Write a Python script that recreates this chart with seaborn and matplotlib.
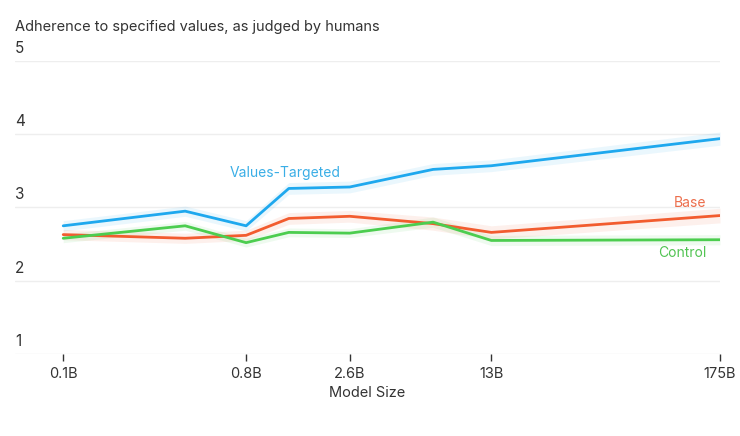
import pandas as pd
import matplotlib.pyplot as plt
import seaborn as sns

# model sizes in billions of parameters
sizes = [0.1, 0.4, 0.8, 1.3, 2.6, 6.7, 13, 175]
tick_sizes = [0.1, 0.8, 2.6, 13, 175]
tick_labels = ["0.1B", "0.8B", "2.6B", "13B", "175B"]
y_ticks = [1, 2, 3, 4, 5]

values_targeted = [2.75, 2.95, 2.75, 3.26, 3.28, 3.52, 3.57, 3.94]
base = [2.63, 2.58, 2.62, 2.85, 2.88, 2.78, 2.66, 2.89]
control = [2.58, 2.75, 2.52, 2.66, 2.65, 2.80, 2.55, 2.56]

# rough half-width of the shaded bands
values_targeted_err = [0.07, 0.07, 0.07, 0.08, 0.08, 0.08, 0.08, 0.09]
base_err = [0.07, 0.07, 0.07, 0.08, 0.08, 0.09, 0.09, 0.1]
control_err = [0.06, 0.06, 0.06, 0.06, 0.06, 0.07, 0.07, 0.07]

series = {
    "Values-Targeted": (values_targeted, values_targeted_err),
    "Base": (base, base_err),
    "Control": (control, control_err),
}
colors = {"Values-Targeted": "#1ea8ee", "Base": "#f25c2f", "Control": "#4ccd4f"}
label_colors = {"Values-Targeted": "#3aaee6", "Base": "#ec6e4c", "Control": "#52c453"}

rows = []
for name, (vals, errs) in series.items():
    for s, v in zip(sizes, vals):
        rows.append({"size": s, "score": v, "model": name})
df = pd.DataFrame(rows)

sns.set_theme(style="white")
plt.rcParams["font.family"] = ["Inter", "DejaVu Sans"]

fig = plt.figure(figsize=(7.4, 4.36), dpi=100)
ax = fig.add_axes([15 / 740, (436 - 354) / 436, 705 / 740, 293 / 436])

for name, (vals, errs) in series.items():
    lo = [v - e for v, e in zip(vals, errs)]
    hi = [v + e for v, e in zip(vals, errs)]
    ax.fill_between(sizes, lo, hi, color=colors[name], alpha=0.09, lw=0)

sns.lineplot(data=df, x="size", y="score", hue="model", palette=colors,
             linewidth=2.0, legend=False, ax=ax)

ax.set_xscale("log")
ax.set_xlim(0.0578, 175)
ax.set_ylim(1, 5)

ax.set_xticks(tick_sizes)
ax.set_xticklabels(tick_labels, fontsize=10.5, color="#333333")
ax.xaxis.set_minor_locator(plt.NullLocator())
ax.tick_params(axis="x", length=5, width=1, color="#333333", pad=4, bottom=True)

ax.set_yticks(y_ticks)
ax.set_yticklabels([])
ax.tick_params(axis="y", length=0)
for y in y_ticks:
    ax.axhline(y, color="#eeeeee", lw=1, zorder=0)
    ax.text(0, y + 0.07, str(y), transform=ax.get_yaxis_transform(),
            ha="left", va="bottom", fontsize=11, color="#333333")

ax.set_xlabel("Model Size", fontsize=10.5, color="#333333", labelpad=4)
ax.set_ylabel("")
for sp in ax.spines.values():
    sp.set_visible(False)

ax.text(1.25, 3.38, "Values-Targeted", color=label_colors["Values-Targeted"],
        fontsize=10, ha="center", va="bottom")
ax.text(150, 2.97, "Base", color=label_colors["Base"], fontsize=10, ha="right", va="bottom")
ax.text(150, 2.28, "Control", color=label_colors["Control"], fontsize=10, ha="right", va="bottom")

fig.text(15 / 740, 1 - 27 / 436, "Adherence to specified values, as judged by humans",
         fontsize=10.5, color="#333333", ha="left", va="center")

fig.savefig("out.png", dpi=100)
